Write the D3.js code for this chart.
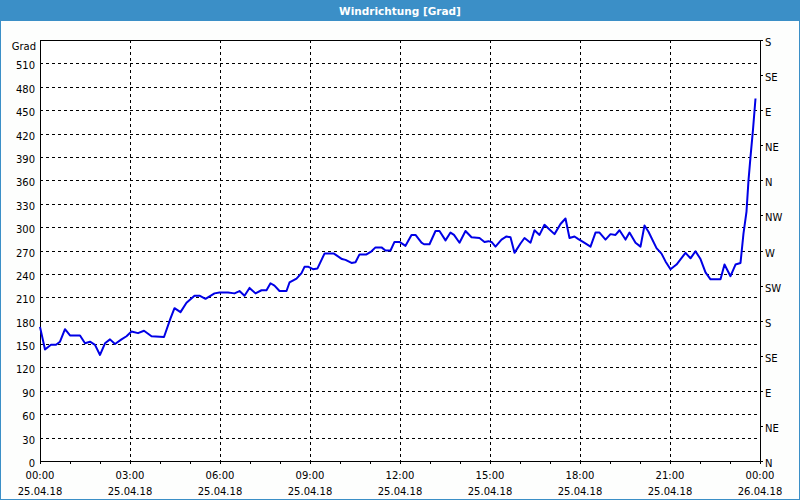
<!DOCTYPE html>
<html>
<head>
<meta charset="utf-8">
<script src="https://cdn.jsdelivr.net/npm/d3@7"></script>
<style>
  html, body { margin: 0; padding: 0; background: #fdfefd; }
  svg { display: block; }
</style>
</head>
<body>
<svg id="chart" width="800" height="500"></svg>
<script>
// ---- data ----
const title = "Windrichtung [Grad]";
const yUnit = "Grad";
// minutes after 25.04.18 00:00
const minutes = [0,10,22,32,40,50,60,80,90,100,110,120,130,140,150,163,173,183,196,208,223,248,261,269,281,293,309,319,331,349,359,
  376,389,399,409,419,431,443,453,461,469,479,493,499,513,523,529,537,546,555,569,588,604,611,623,631,639,653,663,671,683,691,701,709,719,
  731,743,751,763,768,779,791,799,811,821,828,839,851,863,879,889,897,903,911,923,933,941,949,961,969,981,989,999,1009,1019,1029,1041,1051,1059,1069,1076,1086,
  1101,1111,1119,1131,1141,1151,1159,1171,1179,1191,1201,1209,1217,1233,1243,1251,1261,1273,1291,1301,1311,1321,1331,1341,1361,1369,1381,1391,1401,1407,1413,1417,1421,1426,1431];
const values = [172,143,149,149,153,169,161,161,151,153,149,136,151,156,150,156,160,166,164,167,160,159,183,196,191,203,212,212,208,215,216,
  216,215,218,212,222,215,219,219,228,225,218,218,229,234,241,249,249,246,247,266,266,259,258,254,255,265,265,269,274,274,270,270,281,281,
  276,290,290,280,278,278,295,295,283,293,290,280,295,287,286,281,282,281,275,284,288,287,267,279,286,280,296,290,303,297,291,304,311,286,288,285,281,
  275,293,293,284,291,290,296,284,293,280,275,302,294,273,266,256,246,252,267,260,269,259,242,233,233,252,237,252,254,292,320,360,390,425,465];
const leftTicks = d3.range(0, 511, 30);
const rightTicks = [0,45,90,135,180,225,270,315,360,405,450,495,540];
const rightLabels = ["N","NE","E","SE","S","SW","W","NW","N","NE","E","SE","S"];
const timeTicksHours = [0,3,6,9,12,15,18,21,24];

// ---- layout ----
const svg = d3.select("#chart");
const W = 800, H = 500;
const m = { left: 40, right: 760, top: 40, bottom: 461 };
const frameColor = "#3b8fc7";
const font = "DejaVu Sans, Verdana, sans-serif";

const t0 = new Date(2018, 3, 25, 0, 0);
const t1 = new Date(2018, 3, 26, 0, 0);
const x = d3.scaleTime().domain([t0, t1]).range([m.left, m.right]);
const y = d3.scaleLinear().domain([0, 540]).range([m.bottom, m.top]);
const toDate = mm => new Date(t0.getTime() + mm * 60000);

// title bar
svg.append("rect").attr("x", 0).attr("y", 0).attr("width", W).attr("height", 21).attr("fill", frameColor);
svg.append("text").attr("x", W / 2).attr("y", 15).attr("text-anchor", "middle")
  .attr("fill", "#fff").attr("font-family", font).attr("font-weight", "bold").attr("font-size", 10.5)
  .text(title);
// window frame
svg.append("rect").attr("x", 0.5).attr("y", 0.5).attr("width", W - 1).attr("height", H - 1)
  .attr("fill", "none").attr("stroke", frameColor).attr("stroke-width", 1);

// plot background
svg.append("rect").attr("x", m.left).attr("y", m.top).attr("width", m.right - m.left).attr("height", m.bottom - m.top)
  .attr("fill", "#ffffff");

// gridlines
const grid = svg.append("g").attr("stroke", "#000").attr("stroke-width", 1).attr("stroke-dasharray", "3,3").attr("shape-rendering", "crispEdges");
leftTicks.filter(v => v > 0).forEach(v => {
  grid.append("line").attr("x1", m.left).attr("x2", m.right).attr("y1", Math.round(y(v)) + 0.5).attr("y2", Math.round(y(v)) + 0.5);
});
timeTicksHours.filter(h => h > 0 && h < 24).forEach(h => {
  const xx = Math.round(x(toDate(h * 60))) + 0.5;
  grid.append("line").attr("x1", xx).attr("x2", xx).attr("y1", m.top).attr("y2", m.bottom);
});

// left axis
const leftAxis = d3.axisLeft(y).tickValues(leftTicks).tickSize(0).tickPadding(5);
const gl = svg.append("g").attr("transform", `translate(${m.left},0)`).call(leftAxis);
gl.select(".domain").remove();
gl.selectAll("text").attr("font-family", font).attr("font-size", 10).attr("fill", "#000").attr("dy", "0.55em");

svg.append("text").attr("x", 36).attr("y", 50).attr("text-anchor", "end")
  .attr("font-family", font).attr("font-size", 10).attr("fill", "#000").text(yUnit);

// right axis
const rightAxis = d3.axisRight(y).tickValues(rightTicks).tickSize(3).tickPadding(2)
  .tickFormat((d, i) => rightLabels[i]);
const gr = svg.append("g").attr("transform", `translate(${m.right},0)`).call(rightAxis);
gr.select(".domain").remove();
gr.selectAll("line").attr("stroke", "#000").attr("shape-rendering", "crispEdges");
gr.selectAll("text").attr("font-family", font).attr("font-size", 10).attr("fill", "#000").attr("dy", "0.55em");

// bottom axis: hourly minor ticks
const hourly = d3.range(0, 25).map(h => toDate(h * 60));
const bottomAxis = d3.axisBottom(x).tickValues(hourly).tickSize(3).tickFormat("");
const gb = svg.append("g").attr("transform", `translate(0,${m.bottom})`).call(bottomAxis);
gb.select(".domain").remove();
gb.selectAll("line").attr("stroke", "#000").attr("shape-rendering", "crispEdges");

const fmtTime = d3.timeFormat("%H:%M");
const fmtDate = d3.timeFormat("%d.%m.%y");
timeTicksHours.forEach(h => {
  const d = toDate(h * 60);
  const g = svg.append("g").attr("transform", `translate(${x(d)},0)`)
    .attr("font-family", font).attr("font-size", 10).attr("fill", "#000").attr("text-anchor", "middle");
  g.append("text").attr("y", 479).text(fmtTime(d));
  g.append("text").attr("y", 495).text(fmtDate(d));
});

// plot border
svg.append("rect").attr("x", m.left + 0.5).attr("y", m.top + 0.5)
  .attr("width", m.right - m.left).attr("height", m.bottom - m.top)
  .attr("fill", "none").attr("stroke", "#000").attr("stroke-width", 1).attr("shape-rendering", "crispEdges");

// series line
const data = minutes.map((mm, i) => ({ t: toDate(mm), v: values[i] }));
const line = d3.line().x(d => x(d.t)).y(d => y(d.v));
svg.append("path").datum(data).attr("d", line)
  .attr("fill", "none").attr("stroke", "#0000e6").attr("stroke-width", 2).attr("stroke-linejoin", "round");
</script>
</body>
</html>
